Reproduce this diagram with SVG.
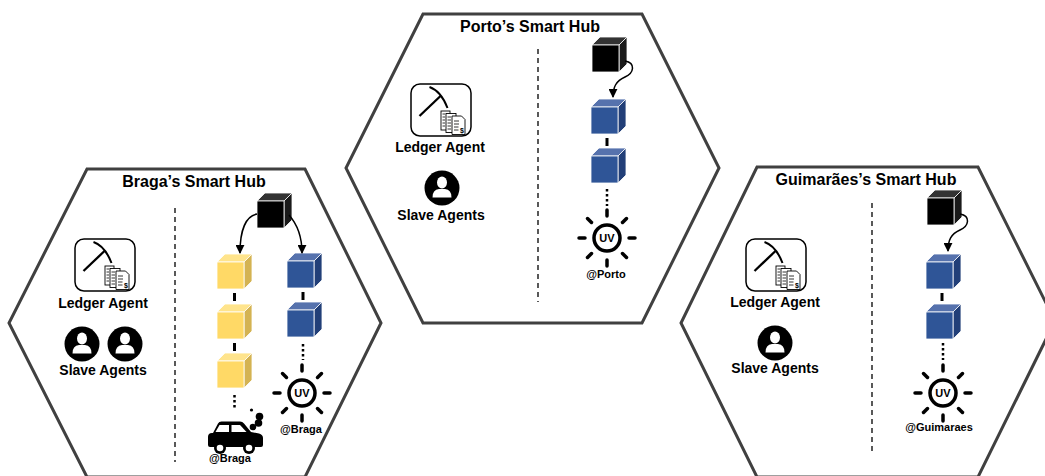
<svg xmlns="http://www.w3.org/2000/svg" xmlns:xlink="http://www.w3.org/1999/xlink" width="1045" height="476" viewBox="0 0 1045 476">
  <style>
    .hex { fill: #ffffff; stroke: #404040; stroke-width: 3; }
    .title { font-family: "Liberation Sans", Arial, sans-serif; font-weight: bold; font-size: 16px; fill: #000; text-anchor: middle; }
    .lbl { font-family: "Liberation Sans", Arial, sans-serif; font-weight: bold; font-size: 14px; fill: #000; text-anchor: middle; }
    .loc { font-family: "Liberation Sans", Arial, sans-serif; font-weight: bold; font-size: 11px; fill: #000; text-anchor: middle; }
    .uv { font-family: "Liberation Sans", Arial, sans-serif; font-weight: bold; font-size: 11px; fill: #000; text-anchor: middle; }
    .divider { stroke: #000; stroke-width: 1.3; stroke-dasharray: 5 4; fill: none; }
    .link { stroke: #000; stroke-width: 3; fill: none; }
    .dots { stroke: #000; stroke-width: 2.5; stroke-dasharray: 2.5 2.5; fill: none; }
    .arrow { stroke: #000; stroke-width: 1.5; fill: none; marker-end: url(#tip); }
    .ray { stroke: #000; stroke-width: 3.5; stroke-linecap: round; }
    .page { fill: #fff; stroke: #000; stroke-width: 0.9; }
    .rule { stroke: #000; stroke-width: 0.8; }
  </style>
  <defs>
    <marker id="tip" viewBox="0 0 10 10" refX="9" refY="5" markerWidth="6" markerHeight="6" orient="auto">
      <path d="M0,0 L10,5 L0,10 Z" fill="#000"/>
    </marker>
    <!-- 3D block: front face 27x27, depth offset (8,-8) -->
    <g id="cube-yellow">
      <path d="M0,0 L8,-8 L35,-8 L27,0 Z" fill="#FFE48C" stroke="#fff" stroke-width="0.8"/>
      <path d="M27,0 L35,-8 L35,19 L27,27 Z" fill="#D4B352" stroke="#fff" stroke-width="0.8"/>
      <rect x="0" y="0" width="27" height="27" fill="#FFD966" stroke="#fff" stroke-width="0.8"/>
    </g>
    <g id="cube-blue">
      <path d="M0,0 L8,-8 L35,-8 L27,0 Z" fill="#5672AD" stroke="#fff" stroke-width="0.8"/>
      <path d="M27,0 L35,-8 L35,19 L27,27 Z" fill="#223F78" stroke="#fff" stroke-width="0.8"/>
      <rect x="0" y="0" width="27" height="27" fill="#2F5597" stroke="#fff" stroke-width="0.8"/>
    </g>
    <g id="cube-black">
      <path d="M0,0 L8,-8 L35,-8 L27,0 Z" fill="#333" stroke="#fff" stroke-width="0.8"/>
      <path d="M27,0 L35,-8 L35,19 L27,27 Z" fill="#1a1a1a" stroke="#fff" stroke-width="0.8"/>
      <rect x="0" y="0" width="27" height="27" fill="#000" stroke="#fff" stroke-width="0.8"/>
    </g>
    <!-- ledger icon: pickaxe and stacked invoices, box 60x52 -->
    <g id="ledger">
      <rect x="0" y="0" width="60" height="52" rx="9" fill="#fff" stroke="#000" stroke-width="1.5"/>
      <path d="M18.5,3 Q30,7 36.5,24" stroke="#000" stroke-width="2" fill="none"/>
      <line x1="8.5" y1="32" x2="29.5" y2="12" stroke="#000" stroke-width="2.3"/>
      <rect class="page" x="30" y="27" width="9" height="19"/>
      <rect class="page" x="35" y="29.5" width="10" height="19"/>
      <path class="page" d="M41,32 L50.5,32 L54,35.5 L54,50.5 L41,50.5 Z"/>
      <g class="rule">
        <line x1="31.5" y1="30" x2="34" y2="30"/><line x1="31.5" y1="33" x2="34" y2="33"/><line x1="31.5" y1="36" x2="34" y2="36"/><line x1="31.5" y1="39" x2="34" y2="39"/><line x1="31.5" y1="42" x2="34" y2="42"/>
        <line x1="36.5" y1="33" x2="40" y2="33"/><line x1="36.5" y1="36" x2="40" y2="36"/><line x1="36.5" y1="39" x2="40" y2="39"/><line x1="36.5" y1="42" x2="40" y2="42"/><line x1="36.5" y1="45" x2="40" y2="45"/>
        <line x1="43" y1="37" x2="48" y2="37"/><line x1="43" y1="40" x2="48" y2="40"/><line x1="43" y1="43" x2="47.5" y2="43"/><line x1="43" y1="46" x2="47.5" y2="46"/>
      </g>
      <text x="51" y="48.5" font-family="Liberation Sans, Arial, sans-serif" font-weight="bold" font-size="7" text-anchor="middle" fill="#000">$</text>
    </g>
    <!-- agent badge -->
    <g id="person">
      <circle cx="0" cy="0" r="17.5" fill="#000"/>
      <ellipse cx="0" cy="-5.5" rx="5" ry="6" fill="#fff"/>
      <path d="M-9.5,9.5 Q-9.5,1.5 -3,1 L3,1 Q9.5,1.5 9.5,9.5 Z" fill="#fff"/>
    </g>
    <!-- UV sensor -->
    <g id="sun">
      <circle cx="0" cy="0" r="13" fill="#fff" stroke="#000" stroke-width="3.5"/>
      <line class="ray" x1="0" y1="-22" x2="0" y2="-28"/>
      <line class="ray" x1="0" y1="22" x2="0" y2="28"/>
      <line class="ray" x1="-22" y1="0" x2="-28" y2="0"/>
      <line class="ray" x1="22" y1="0" x2="28" y2="0"/>
      <line class="ray" x1="15.5" y1="-15.5" x2="19.5" y2="-19.5"/>
      <line class="ray" x1="-15.5" y1="-15.5" x2="-19.5" y2="-19.5"/>
      <line class="ray" x1="15.5" y1="15.5" x2="19.5" y2="19.5"/>
      <line class="ray" x1="-15.5" y1="15.5" x2="-19.5" y2="19.5"/>
      <text class="uv" x="0" y="4">UV</text>
    </g>
  </defs>

  <!-- Braga hub -->
  <g id="braga-hub">
    <polygon class="hex" points="87,169 305,169 381,323 305,477 87,477 9,323"/>
    <text class="title" x="194" y="187">Braga’s Smart Hub</text>
    <line class="divider" x1="175" y1="208" x2="175" y2="462"/>
    <g id="braga-ledger">
      <use xlink:href="#ledger" x="75" y="239"/>
      <text class="lbl" x="103" y="308">Ledger Agent</text>
    </g>
    <g id="braga-slaves">
      <use xlink:href="#person" x="82" y="344"/>
      <use xlink:href="#person" x="125" y="344"/>
      <text class="lbl" x="103" y="375">Slave Agents</text>
    </g>
    <g id="braga-chain">
      <use xlink:href="#cube-black" x="257" y="201"/>
      <use xlink:href="#cube-yellow" x="217" y="262"/>
      <use xlink:href="#cube-yellow" x="217" y="312"/>
      <use xlink:href="#cube-yellow" x="217" y="361"/>
      <use xlink:href="#cube-blue" x="287" y="261"/>
      <use xlink:href="#cube-blue" x="287" y="310"/>
    </g>
    <g id="braga-car">
      <path d="M208,445 L208,437 Q208,433 212,433 L213,433 L218,423.5 Q219,421.5 221.5,421.5 L240,421.5 Q242.5,421.5 244,423.5 L251,432 L259,433.5 Q263,434.5 263,438 L263,445 Q263,447 261,447 L210,447 Q208,447 208,445 Z" fill="#000"/>
      <path d="M219.5,425 L229,425 L229,432 L215.5,432 Z" fill="#fff"/>
      <path d="M231.5,425 L240,425 L246.5,432 L231.5,432 Z" fill="#fff"/>
      <circle cx="220" cy="448" r="6" fill="#000"/>
      <circle cx="220" cy="448" r="3.3" fill="#fff"/>
      <circle cx="249" cy="448" r="6" fill="#000"/>
      <circle cx="249" cy="448" r="3.3" fill="#fff"/>
      <circle cx="251.5" cy="410" r="1.6" fill="#000"/>
      <circle cx="259.5" cy="416.5" r="3.8" fill="#000"/>
      <circle cx="258.5" cy="423" r="3.8" fill="#000"/>
      <circle cx="253" cy="427" r="3.3" fill="#000"/>
      <text class="loc" x="230" y="462">@Braga</text>
    </g>
    <g id="braga-uv">
      <use xlink:href="#sun" x="302" y="393"/>
      <text class="loc" x="301" y="433">@Braga</text>
    </g>
  </g>

  <!-- Porto hub -->
  <g id="porto-hub">
    <polygon class="hex" points="423,14 642,14 719,168 642,323 423,323 346,168"/>
    <text class="title" x="530" y="32">Porto’s Smart Hub</text>
    <line class="divider" x1="538" y1="49" x2="538" y2="302"/>
    <g id="porto-ledger">
      <use xlink:href="#ledger" x="411" y="84"/>
      <text class="lbl" x="440" y="152">Ledger Agent</text>
    </g>
    <g id="porto-slaves">
      <use xlink:href="#person" x="442" y="188"/>
      <text class="lbl" x="441" y="220">Slave Agents</text>
    </g>
    <g id="porto-chain">
      <use xlink:href="#cube-black" x="592" y="45"/>
      <use xlink:href="#cube-blue" x="591" y="107"/>
      <use xlink:href="#cube-blue" x="591" y="156"/>
    </g>
    <g id="porto-uv">
      <use xlink:href="#sun" x="607" y="238"/>
      <text class="loc" x="606" y="278">@Porto</text>
    </g>
  </g>

  <!-- Guimarães hub -->
  <g id="guimaraes-hub">
    <polygon class="hex" points="757,167 978,167 1055,321 978,477 757,477 681,323"/>
    <text class="title" x="866" y="185">Guimarães’s Smart Hub</text>
    <line class="divider" x1="872" y1="203" x2="872" y2="455"/>
    <g id="guimaraes-ledger">
      <use xlink:href="#ledger" x="746" y="239"/>
      <text class="lbl" x="775" y="307">Ledger Agent</text>
    </g>
    <g id="guimaraes-slaves">
      <use xlink:href="#person" x="775" y="343"/>
      <text class="lbl" x="775" y="373">Slave Agents</text>
    </g>
    <g id="guimaraes-chain">
      <use xlink:href="#cube-black" x="927" y="198"/>
      <use xlink:href="#cube-blue" x="926" y="262"/>
      <use xlink:href="#cube-blue" x="926" y="312"/>
    </g>
    <g id="guimaraes-uv">
      <use xlink:href="#sun" x="943" y="393"/>
      <text class="loc" x="939" y="431">@Guimaraes</text>
    </g>
  </g>

  <!-- connectors -->
  <g id="connectors">
    <!-- Braga -->
    <path class="arrow" d="M257,214 C246,216 240,230 240,253"/>
    <path class="arrow" d="M289,215 C297,224 302,236 302,253"/>
    <line class="link" x1="234.5" y1="293" x2="234.5" y2="301"/>
    <line class="link" x1="234.5" y1="343" x2="234.5" y2="351"/>
    <line class="dots" x1="234.5" y1="395" x2="234.5" y2="409"/>
    <line class="link" x1="303" y1="292" x2="303" y2="300"/>
    <line class="dots" x1="303" y1="344" x2="303" y2="360"/>
    <!-- Porto -->
    <path class="arrow" d="M625,61 C636,63 634,73 625,77 C616,81 613,87 613,97"/>
    <line class="link" x1="607" y1="138" x2="607" y2="146"/>
    <line class="dots" x1="607" y1="189" x2="607" y2="206"/>
    <!-- Guimarães -->
    <path class="arrow" d="M960,214 C971,216 969,226 960,230 C951,234 948,240 948,251"/>
    <line class="link" x1="942" y1="293" x2="942" y2="301"/>
    <line class="dots" x1="943" y1="343" x2="943" y2="360"/>
  </g>
</svg>
